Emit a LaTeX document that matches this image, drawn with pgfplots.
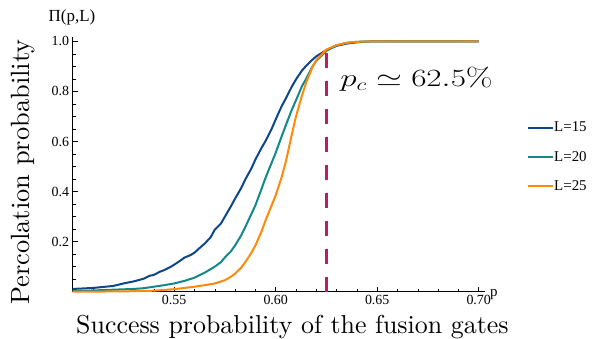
\documentclass[border=0pt]{standalone}
\usepackage{pgfplots}
\pgfplotsset{compat=1.18}
\usepackage{fontspec}
\newfontfamily\timesfont{Liberation Serif}
\newfontfamily\lmten{lmroman10-regular.otf}
\definecolor{cA}{HTML}{0E468C}
\definecolor{cB}{HTML}{11898A}
\definecolor{cC}{HTML}{FF8A0A}
\definecolor{cpc}{HTML}{B4206C}
\begin{document}
\begin{tikzpicture}
\begin{axis}[
  at={(0,0)}, anchor=south west,
  scale only axis, width=412.3bp, height=255bp,
  xmin=0.5, xmax=0.7031, ymin=0, ymax=1.0184,
  axis lines*=left,
  axis line style={black, line width=0.7bp},
  tick align=inside,
  major tick length=5bp, minor tick length=3bp,
  every tick/.style={black, line width=0.6bp},
  xtick={0.55,0.60,0.65,0.70},
  xticklabels={0.55,0.60,0.65,0.70},
  minor xtick={0.51,0.52,0.53,0.54,0.56,0.57,0.58,0.59,0.61,0.62,0.63,0.64,0.66,0.67,0.68,0.69},
  ytick={0.2,0.4,0.6,0.8,1.0},
  yticklabels={0.2,0.4,0.6,0.8,1.0},
  minor ytick={0.05,0.1,0.15,0.25,0.3,0.35,0.45,0.5,0.55,0.65,0.7,0.75,0.85,0.9,0.95},
  ticklabel style={font=\timesfont\fontsize{14}{16}\selectfont},
  legend style={at={(1.1019,0.528)}, anchor=west, draw=none, fill=none,
    font=\timesfont\fontsize{15}{17}\selectfont, inner sep=0pt,
    row sep=18bp, nodes={inner sep=0pt}},
  legend cell align=left,
  legend image code/.code={\draw[#1] (0bp,0bp) -- (25bp,0bp);},
  /tikz/every even column/.style={column sep=13bp},
  clip=false,
]
\addplot[cA, line width=2bp] coordinates {
(0.500,0.011) (0.505,0.013) (0.510,0.015) (0.515,0.019) (0.520,0.023) (0.525,0.033) (0.530,0.041)
(0.535,0.052) (0.538,0.064) (0.540,0.067) (0.543,0.080) (0.545,0.086) (0.548,0.098) (0.550,0.108)
(0.553,0.124) (0.555,0.136) (0.558,0.146) (0.560,0.156) (0.563,0.178) (0.565,0.192) (0.568,0.218)
(0.570,0.248) (0.573,0.272) (0.575,0.300) (0.578,0.342) (0.580,0.372) (0.583,0.414) (0.585,0.448)
(0.588,0.492) (0.590,0.528) (0.593,0.574) (0.595,0.602) (0.598,0.650) (0.600,0.688) (0.603,0.742)
(0.605,0.772) (0.608,0.820) (0.610,0.848) (0.613,0.884) (0.615,0.902) (0.618,0.926) (0.620,0.940)
(0.625,0.965) (0.630,0.982) (0.635,0.991) (0.640,0.996) (0.645,0.999) (0.650,1.0) (0.700,1.0)};
\addplot[cB, line width=2bp] coordinates {
(0.500,0.003) (0.510,0.005) (0.520,0.008) (0.530,0.011) (0.535,0.014) (0.540,0.020) (0.545,0.026)
(0.550,0.033) (0.555,0.043) (0.560,0.056) (0.565,0.076) (0.570,0.100) (0.573,0.118) (0.575,0.137)
(0.578,0.162) (0.580,0.185) (0.583,0.225) (0.585,0.258) (0.588,0.310) (0.590,0.345) (0.593,0.410)
(0.595,0.455) (0.598,0.515) (0.600,0.555) (0.603,0.622) (0.605,0.665) (0.608,0.728) (0.610,0.765)
(0.613,0.822) (0.615,0.850) (0.618,0.898) (0.620,0.922) (0.625,0.962) (0.630,0.984) (0.635,0.994)
(0.640,0.998) (0.650,1.0) (0.700,1.0)};
\addplot[cC, line width=2bp] coordinates {
(0.500,0.000) (0.520,0.001) (0.530,0.002) (0.540,0.004) (0.545,0.007) (0.550,0.010) (0.555,0.015)
(0.560,0.020) (0.565,0.026) (0.570,0.033) (0.575,0.046) (0.578,0.060) (0.580,0.072) (0.583,0.096)
(0.585,0.118) (0.588,0.155) (0.590,0.185) (0.593,0.240) (0.595,0.285) (0.598,0.345) (0.600,0.385)
(0.603,0.460) (0.605,0.520) (0.608,0.630) (0.610,0.700) (0.613,0.785) (0.615,0.835) (0.618,0.895)
(0.620,0.925) (0.625,0.967) (0.630,0.985) (0.635,0.994) (0.640,0.998) (0.650,1.0) (0.700,1.0)};
\addplot[cpc, line width=3.5bp, dash pattern=on 15bp off 13bp, forget plot] coordinates {(0.625,0) (0.625,0.963)};
\legend{L=15,L=20,L=25}
\end{axis}
\node[inner sep=0pt, font=\timesfont\fontsize{17}{19}\selectfont] at (-0.7bp,274.2bp) {Π(p,L)};
\node[inner sep=0pt, anchor=base west, font=\timesfont\fontsize{15}{17}\selectfont] at (417.3bp,-5bp) {p};
\node[inner sep=0pt, anchor=base west, font=\lmten\fontsize{26}{30}\selectfont] at (3.3bp,-41.3bp) {Success probability of the fusion gates};
\node[inner sep=0pt, anchor=base west, rotate=90, font=\lmten\fontsize{26.5}{30}\selectfont] at (-42.7bp,-13.3bp) {Percolation probability};
\node[inner sep=0pt, anchor=base west, xscale=1.34, font=\fontsize{26}{30}\selectfont] at (267.3bp,205bp) {$p_c \simeq 62.5\%$};
\useasboundingbox (-72.7bp,-45.3bp) rectangle (532.3bp,291.7bp);
\end{tikzpicture}
\end{document}
